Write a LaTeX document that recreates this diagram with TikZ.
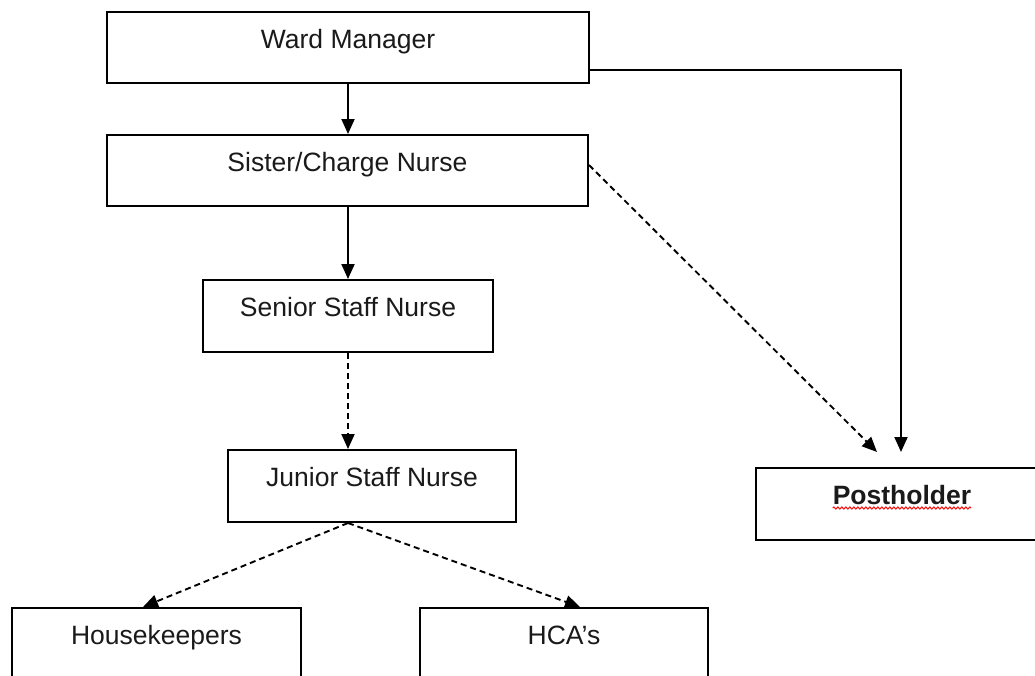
\documentclass[tikz,border=0pt]{standalone}
\usepackage{fontspec}
\setmainfont{Liberation Sans}
\usetikzlibrary{arrows.meta,decorations.pathmorphing}
\definecolor{txt}{HTML}{1A1A1A}
\tikzset{
  box/.style={draw=black, line width=2pt, fill=white, inner sep=0pt},
  lbl/.style={anchor=base, inner sep=0pt, text=txt, font=\fontsize{26.5}{30}\selectfont},
  conn/.style={line width=1.9pt, -{Triangle[length=15pt,width=13pt]}},
  dconn/.style={conn, dash pattern=on 6pt off 4pt}
}
\begin{document}
\begin{tikzpicture}[x=1pt,y=-1pt]
\useasboundingbox (0,0) rectangle (1035,675);
\clip (0,0) rectangle (1035,675);
% boxes
\node[box, minimum width=482pt, minimum height=71pt] (wm) at (348,47.5) {};
\node[box, minimum width=481pt, minimum height=71pt] (sc) at (347.5,170.5) {};
\node[box, minimum width=290pt, minimum height=72pt] (ssn) at (348,316) {};
\node[box, minimum width=288pt, minimum height=72pt] (jsn) at (372,486) {};
\node[box, minimum width=289pt, minimum height=72pt] (hk) at (156.5,644) {};
\node[box, minimum width=288pt, minimum height=72pt] (hca) at (564,644) {};
\node[box, minimum width=292pt, minimum height=72pt] (ph) at (902,504) {};
% labels
\node[lbl] (wm-t) at ([yshift=-37.5pt]wm.north) {Ward Manager};
\node[lbl] (sc-t) at ([yshift=-37.5pt]sc.north) {Sister/Charge Nurse};
\node[lbl] (ssn-t) at ([yshift=-37.5pt]ssn.north) {Senior Staff Nurse};
\node[lbl] (jsn-t) at ([yshift=-37.5pt]jsn.north) {Junior Staff Nurse};
\node[lbl] (hk-t) at ([yshift=-37.5pt]hk.north) {Housekeepers};
\node[lbl] (hca-t) at ([yshift=-37.5pt]hca.north) {HCA’s};
\node[lbl, font=\fontsize{26.5}{30}\selectfont\bfseries] (ph-t) at ([yshift=-37pt]ph.north) {Postholder};
\draw[red, line width=0.9pt, decorate, decoration={snake, amplitude=1.1pt, segment length=4pt}]
  ([yshift=-4pt]ph-t.base west) -- ([yshift=-4pt]ph-t.base east);
% connectors
\draw[conn] (wm.south) -- (wm.south |- sc.north);
\draw[conn] ([xshift=0.5pt]sc.south) -- ([xshift=0.5pt]sc.south |- ssn.north);
\draw[conn] ([yshift=-22.5pt]wm.east) -| ([xshift=-1pt,yshift=15pt]ph.north);
\draw[dconn] ([yshift=5.5pt]sc.east) -- ([xshift=-25pt,yshift=15pt]ph.north);
\draw[dconn] (ssn.south) -- (ssn.south |- jsn.north);
\coordinate (j0) at ([xshift=-24pt]jsn.south);
\draw[dconn] (j0) -- ([xshift=-13.5pt]hk.north);
\draw[dconn] (j0) -- ([xshift=16pt]hca.north);
\end{tikzpicture}
\end{document}
